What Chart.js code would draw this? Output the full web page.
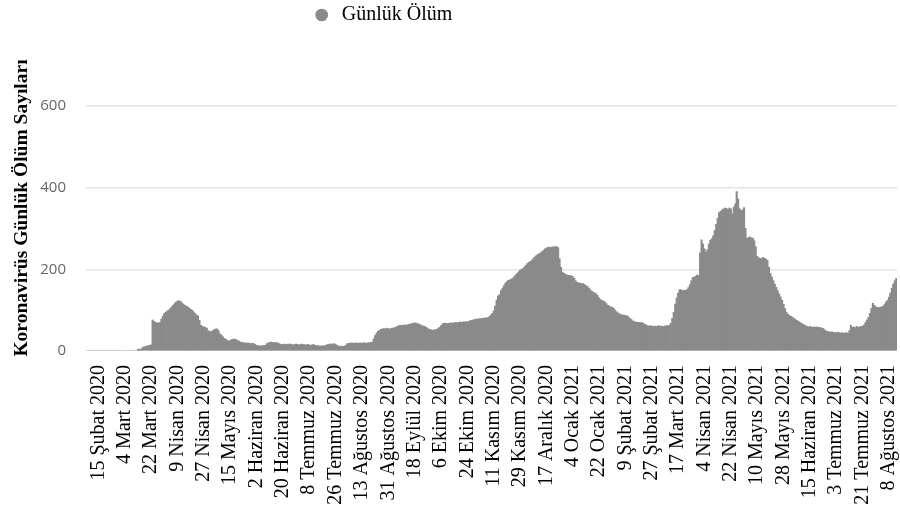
<!DOCTYPE html>
<html>
<head>
<meta charset="utf-8">
<script src="https://cdn.jsdelivr.net/npm/chart.js@4.4.1/dist/chart.umd.min.js"></script>
<style>
  html, body { margin: 0; padding: 0; background: #fff; }
  #wrap { width: 900px; height: 506px; }
</style>
</head>
<body>
<div id="wrap"><canvas id="deathChart"></canvas></div>
<script>
// ilk gün (7 Şubat 2020), ilk etiket 8 gün sonra
const startDate = [2020, 1, 7];
const tickEvery = 18;
const tickOffset = 8;

const tickLabels = [
  "15 Şubat 2020", "4 Mart 2020", "22 Mart 2020", "9 Nisan 2020", "27 Nisan 2020",
  "15 Mayıs 2020", "2 Haziran 2020", "20 Haziran 2020", "8 Temmuz 2020", "26 Temmuz 2020",
  "13 Ağustos 2020", "31 Ağustos 2020", "18 Eylül 2020", "6 Ekim 2020", "24 Ekim 2020",
  "11 Kasım 2020", "29 Kasım 2020", "17 Aralık 2020", "4 Ocak 2021", "22 Ocak 2021",
  "9 Şubat 2021", "27 Şubat 2021", "17 Mart 2021", "4 Nisan 2021", "22 Nisan 2021",
  "10 Mayıs 2021", "28 Mayıs 2021", "15 Haziran 2021", "3 Temmuz 2021", "21 Temmuz 2021",
  "8 Ağustos 2021"
];

// günlük ölüm sayıları
const dailyDeaths = [
  0, 0, 0, 0, 0, 0, 0, 0,
  0, 0, 0, 0, 0, 0, 0, 0, 0, 0,
  0, 0, 0, 0, 0, 0, 0, 0, 0, 0,
  0, 0, 0, 0, 0, 0, 0, 4, 5, 4,
  8, 10, 11, 12, 13, 14, 15, 76, 72, 70,
  69, 68, 70, 78, 85, 92, 95, 98, 100, 104,
  108, 112, 116, 120, 122, 123, 122, 118, 115, 112,
  110, 108, 105, 102, 100, 96, 92, 88, 86, 75,
  63, 60, 59, 58, 56, 50, 48, 47, 50, 52,
  54, 54, 50, 42, 39, 35, 31, 28, 27, 24,
  26, 28, 29, 29, 28, 26, 24, 22, 21, 20,
  20, 19, 20, 19, 18, 19, 18, 16, 14, 13,
  13, 12, 13, 14, 14, 18, 20, 21, 22, 21,
  20, 21, 20, 19, 17, 16, 16, 17, 16, 16,
  17, 17, 16, 15, 16, 17, 16, 15, 16, 17,
  16, 15, 15, 16, 15, 14, 15, 16, 14, 13,
  13, 12, 12, 13, 12, 14, 15, 16, 17, 17,
  17, 18, 16, 14, 12, 11, 12, 11, 12, 14,
  18, 19, 19, 20, 19, 19, 20, 19, 19, 20,
  19, 20, 20, 19, 20, 20, 21, 22, 30, 38,
  44, 48, 51, 53, 54, 55, 54, 56, 55, 54,
  55, 56, 57, 58, 60, 62, 63, 63, 62, 64,
  63, 64, 65, 66, 67, 68, 69, 68, 67, 66,
  64, 62, 61, 60, 58, 55, 53, 52, 51, 51,
  52, 53, 55, 58, 62, 66, 68, 68, 67, 68,
  68, 69, 68, 69, 70, 69, 70, 71, 70, 71,
  71, 72, 71, 73, 74, 75, 76, 77, 78, 78,
  79, 79, 80, 80, 81, 81, 82, 84, 88, 92,
  98, 110, 125, 135, 138, 148, 154, 160, 166, 170,
  173, 174, 176, 178, 182, 186, 190, 194, 197, 200,
  202, 206, 210, 214, 217, 219, 222, 226, 230, 233,
  236, 238, 240, 243, 246, 250, 252, 254, 254, 253,
  255, 254, 256, 255, 253, 226, 205, 193, 190, 188,
  186, 185, 185, 184, 182, 178, 172, 168, 167, 166,
  165, 165, 163, 160, 158, 154, 150, 146, 144, 142,
  140, 136, 130, 126, 124, 122, 120, 116, 112, 110,
  108, 107, 104, 100, 96, 93, 91, 89, 88, 88,
  87, 86, 84, 80, 77, 74, 72, 71, 70, 70,
  69, 70, 68, 66, 64, 62, 61, 62, 61, 60,
  61, 60, 61, 62, 60, 61, 60, 61, 62, 62,
  63, 68, 80, 95, 115, 130, 142, 150, 150, 148,
  148, 149, 150, 155, 162, 172, 180, 181, 183, 186,
  184, 240, 272, 262, 250, 242, 248, 262, 271, 275,
  282, 295, 310, 325, 339, 342, 345, 348, 350, 349,
  346, 350, 348, 336, 352, 360, 390, 372, 348, 344,
  345, 351, 300, 275, 278, 279, 277, 276, 270, 255,
  232, 228, 227, 226, 229, 227, 225, 222, 205, 190,
  181, 172, 164, 156, 148, 140, 132, 124, 114, 104,
  95, 90, 87, 85, 83, 80, 78, 75, 73, 71,
  68, 66, 64, 62, 60, 59, 60, 59, 58, 59,
  58, 59, 57, 58, 56, 55, 52, 49, 48, 47,
  46, 47, 45, 46, 44, 46, 45, 44, 45, 43,
  44, 45, 43, 50, 63, 58, 59, 57, 60, 58,
  59, 60, 61, 64, 70, 76, 82, 92, 104, 117,
  112, 108, 107, 106, 107, 108, 110, 114, 120, 124,
  132, 142, 154, 164, 172, 178
];

const yTicks = [0, 200, 400, 600];

// günlük tarih kategorileri
const months = ["Ocak", "Şubat", "Mart", "Nisan", "Mayıs", "Haziran",
  "Temmuz", "Ağustos", "Eylül", "Ekim", "Kasım", "Aralık"];
const categories = [];
for (let i = 0; i < dailyDeaths.length; i++) {
  const d = new Date(Date.UTC(startDate[0], startDate[1], startDate[2] + i));
  categories.push(d.getUTCDate() + " " + months[d.getUTCMonth()] + " " + d.getUTCFullYear());
}

const barGrey = "rgb(138,138,138)";

// lejandı sola ve yukarı kaydır
const legendShift = {
  id: "legendShift",
  afterLayout(chart) {
    const lg = chart.legend;
    const dx = 382 - (lg.left + lg.right) / 2;
    lg.left += dx;
    lg.right += dx;
    lg.top -= 30;
    lg.bottom -= 30;
  }
};

Chart.defaults.font.family = "'Liberation Serif', serif";
Chart.defaults.color = "#000";

new Chart(document.getElementById("deathChart"), {
  type: "bar",
  data: {
    labels: categories,
    datasets: [
      {
        label: "Günlük Ölüm",
        data: dailyDeaths,
        backgroundColor: barGrey,
        borderWidth: 0,
        barPercentage: 1.0,
        categoryPercentage: 1.0
      }
    ]
  },
  options: {
    responsive: true,
    maintainAspectRatio: false,
    animation: false,
    layout: { padding: { left: 6, right: 3, top: 29, bottom: 0 } },
    plugins: {
      legend: {
        display: true,
        position: "top",
        labels: {
          usePointStyle: true,
          pointStyle: "circle",
          boxHeight: 9,
          padding: 6,
          color: "#000",
          font: { size: 20 }
        }
      },
      tooltip: { enabled: false }
    },
    scales: {
      x: {
        grid: { display: false },
        border: { display: false },
        ticks: {
          autoSkip: false,
          minRotation: 90,
          maxRotation: 90,
          padding: 6,
          color: "#000",
          font: { size: 20 },
          callback: function(value, index) {
            const k = index - tickOffset;
            return k >= 0 && k % tickEvery === 0 ? tickLabels[k / tickEvery] : "";
          }
        },
        afterFit: function(scale) {
          scale.height = 155;
          scale.paddingRight = 0;
        }
      },
      y: {
        min: 0,
        max: 700,
        border: { display: false },
        grid: {
          drawTicks: false,
          lineWidth: 1.5,
          color: function(ctx) {
            return ctx.tick && ctx.tick.value === 0 ? "rgba(0,0,0,0)" : "#e4e4e4";
          }
        },
        afterBuildTicks: function(scale) {
          scale.ticks = yTicks.map(v => ({ value: v }));
        },
        ticks: {
          padding: 20,
          color: "#666",
          font: { family: "'Open Sans', sans-serif", size: 15 }
        },
        title: {
          display: true,
          text: "Koronavirüs Günlük Ölüm Sayıları",
          color: "#000",
          font: { size: 19.5, weight: "bold" }
        },
        afterFit: function(scale) { scale.width = 80; }
      }
    }
  },
  plugins: [legendShift]
});
</script>
</body>
</html>
